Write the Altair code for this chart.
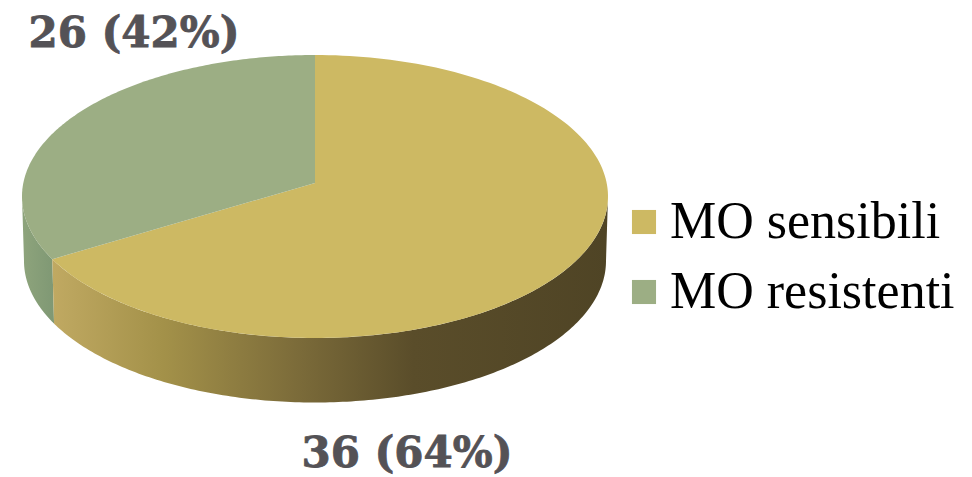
import numpy as np
import pandas as pd
import altair as alt

categories = ["MO sensibili", "MO resistenti"]
shares = [0.677, 0.323]          # slice sizes as drawn in the picture
labels = ["36 (64%)", "26 (42%)"]
colors = ["#CDB963", "#9CAE84"]

# ellipse geometry in image pixels
CX, CY, RX, RY = 315.0, 196.5, 293.0, 141.5
VX, VY = 315.0, 183.0
BCY, BRX, BRY = 261.0, 291.0, 141.5


def rim(t0, t1, cx=CX, cy=CY, rx=RX, ry=RY):
    t = np.radians(np.linspace(t0, t1, 181))
    return cx + rx * np.sin(t), cy - ry * np.cos(t)


split = shares[0] * 360
frames = []
for name, a, b in [(categories[0], 0, split), (categories[1], split, 360)]:
    x, y = rim(a, b)
    x = np.r_[VX, x, VX]
    y = np.r_[VY, y, VY]
    frames.append(pd.DataFrame({"x": x, "y": y, "i": range(len(x)), "series": name}))
top = pd.concat(frames)


def wall(a, b):
    x1, y1 = rim(a, b)
    x2, y2 = rim(b, a, cy=BCY, rx=BRX, ry=BRY)
    x, y = np.r_[x1, x2], np.r_[y1, y2]
    return pd.DataFrame({"x": x, "y": y, "i": range(len(x))})


xs = alt.X("x:Q", axis=None, scale=alt.Scale(domain=[8, 964], nice=False, zero=False))
ys = alt.Y("y:Q", axis=None, scale=alt.Scale(domain=[477, 8], nice=False, zero=False))


def grad(stops):
    return alt.Gradient(
        gradient="linear", x1=0, x2=1, y1=0, y2=0,
        stops=[alt.GradientStop(offset=o, color=c) for o, c in stops],
    )


gold_wall = alt.Chart(wall(90, split)).mark_line(
    filled=True, interpolate="linear", strokeWidth=0,
    fill=grad([(0, "#C0A962"), (0.2, "#A39149"), (0.45, "#7A6A39"),
               (0.65, "#5A4D2A"), (1, "#4F4425")]),
).encode(x=xs, y=ys, order="i:Q")

green_wall = alt.Chart(wall(split, 270)).mark_line(
    filled=True, interpolate="linear", strokeWidth=0,
    fill=grad([(0, "#8EA47C"), (1, "#7F9874")]),
).encode(x=xs, y=ys, order="i:Q")

top_layer = alt.Chart(top).mark_line(filled=True, strokeWidth=0).encode(
    x=xs, y=ys, order="i:Q",
    color=alt.Color(
        "series:N",
        scale=alt.Scale(domain=categories, range=colors),
        legend=alt.Legend(
            title=None, orient="none", legendX=610, legendY=188,
            symbolType="square", symbolSize=580, symbolStrokeWidth=0,
            labelFont="Liberation Serif", labelFontSize=52, labelColor="#000000",
            labelLimit=400, labelOffset=0, rowPadding=18, symbolOpacity=1,
        ),
    ),
)

label_df = pd.DataFrame({"x": [407, 134], "y": [454, 34], "label": labels})
text = alt.Chart(label_df).mark_text(
    font="DejaVu Serif", fontWeight="bold", fontSize=42, color="#545256",
    stroke="#545256", strokeWidth=0.8,
    align="center", baseline="middle",
).encode(x=xs, y=ys, text="label:N")

chart = alt.layer(green_wall, gold_wall, top_layer, text).properties(
    width=956, height=469, padding=0, autosize="none",
).configure_view(stroke=None)

chart.save("out.html", embed_options={"renderer": "svg", "actions": False})
